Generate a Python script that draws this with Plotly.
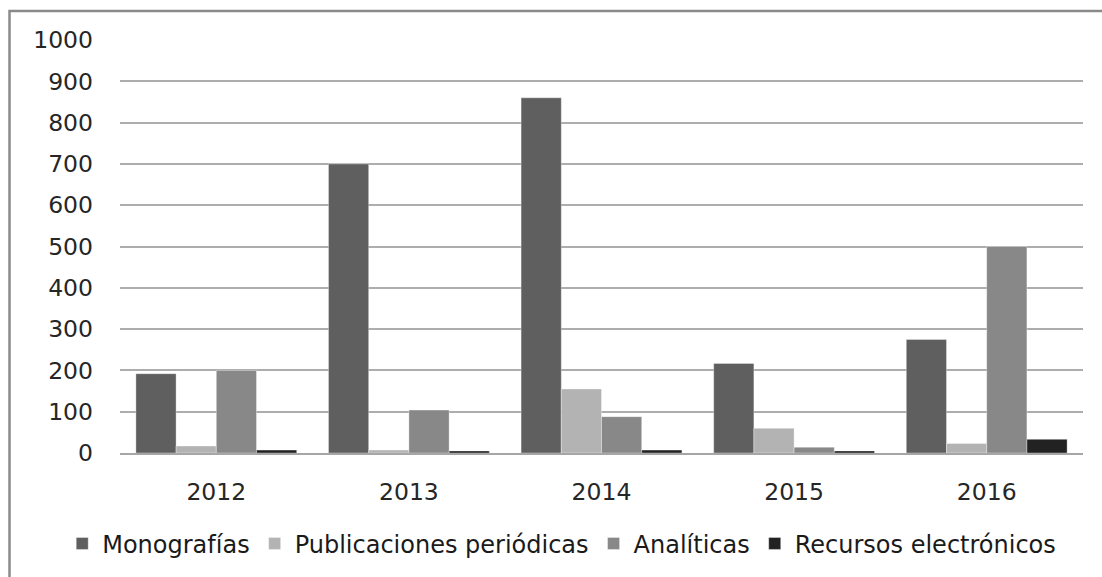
import plotly.graph_objects as go

# Registros catalogados por año y tipo de material
years = ["2012", "2013", "2014", "2015", "2016"]
monografias = [192, 700, 860, 217, 275]
publicaciones = [17, 7, 155, 60, 23]
analiticas = [200, 104, 88, 14, 500]
recursos = [7, 5, 7, 5, 33]

series = [
    ("Monografías", monografias, "#5f5f5f"),
    ("Publicaciones periódicas", publicaciones, "#b3b3b3"),
    ("Analíticas", analiticas, "#888888"),
    ("Recursos electrónicos", recursos, "#222222"),
]

fig = go.Figure()
for name, vals, color in series:
    fig.add_trace(go.Bar(
        name=name, x=years, y=vals,
        marker=dict(color=color, line=dict(color="rgba(255,255,255,0.35)", width=1)),
    ))

tick_font = dict(family="DejaVu Sans, sans-serif", size=23.5, color="#262626")

fig.update_layout(
    width=1102, height=577,
    margin=dict(l=120, r=19, t=40, b=124, autoexpand=False),
    paper_bgcolor="white", plot_bgcolor="white",
    barmode="group", bargap=0.165, bargroupgap=0,
    showlegend=True,
    legend=dict(
        orientation="h", x=-0.06, xanchor="left", y=-0.22, yanchor="middle",
        font=dict(family="DejaVu Sans, sans-serif", size=24, color="#1a1a1a"),
        itemwidth=30, tracegroupgap=0, traceorder="normal",
    ),
    xaxis=dict(
        showgrid=False, showline=True, linecolor="#a6a6a6", linewidth=2,
        tickfont=tick_font, ticks="", ticklabelstandoff=17,
    ),
    yaxis=dict(
        range=[0, 1000], dtick=100, showgrid=True, gridcolor="#adadad", gridwidth=1.5,
        zeroline=False, showline=False, tickfont=tick_font, ticks="",
        ticklabelstandoff=26,
    ),
    shapes=[dict(
        type="rect", xref="paper", yref="paper",
        x0=(9.5 - 120) / 963, x1=1.2, y0=-0.6, y1=(453 - 11) / 413,
        line=dict(color="#8a8a8a", width=2.5), fillcolor="rgba(0,0,0,0)", layer="below",
    )],
)

fig.write_html("out.html")
